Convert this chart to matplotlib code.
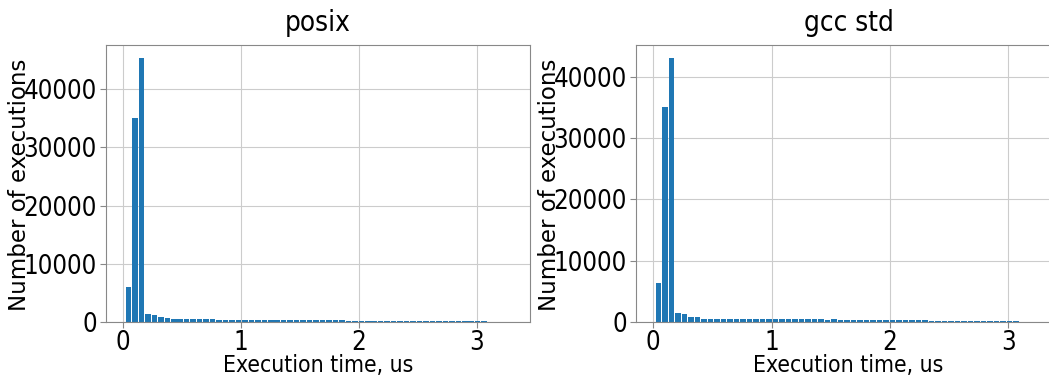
import matplotlib
matplotlib.use("Agg")
import matplotlib.pyplot as plt
import numpy as np

# histogram bins (execution time, us)
bin_edges = np.linspace(0.017, 3.31, 61)

posix_counts = [6000, 35000, 45300, 1420, 1180, 830, 660, 540, 540,
                440, 440, 440, 440, 440, 430, 430, 430, 430, 430, 430, 420, 420,
                320, 320, 320, 320, 310, 310, 310, 310, 310, 310, 310, 380,
                230, 230, 230, 230, 230, 230, 230, 230, 230, 230, 230, 230, 230,
                230, 230, 220, 220, 220, 220, 220, 220, 220,
                0, 0, 0, 5]

gcc_counts = [6350, 35000, 43000, 1400, 1300, 820, 820, 560, 560, 560,
              560, 560, 560, 560, 420, 560, 420, 420, 420, 420, 420, 420, 420,
              420, 420, 420, 330, 470, 330, 330, 330, 330, 330, 330, 330, 330,
              330, 330, 330, 330, 330, 330, 220, 220, 220, 220, 220, 220, 220,
              220, 220, 220, 220, 220, 220, 220,
              0, 0, 0, 5]

titles = ["posix", "gcc std"]
series = [posix_counts, gcc_counts]

cond = dict(family="DejaVu Sans", stretch="condensed")

fig = plt.figure(figsize=(10.49, 3.78), dpi=100)
# right panel runs past the figure edge, as in the original (cropped) image
ax1 = fig.add_axes([0.101, 0.148, 0.404, 0.733])
ax2 = fig.add_axes([0.606, 0.148, 0.406, 0.733])

for ax, title, counts in zip([ax1, ax2], titles, series):
    ax.hist(bin_edges[:-1], bins=bin_edges, weights=counts, rwidth=0.85,
            color="#1f77b4", zorder=2)
    ax.set_xlim(-0.147, 3.45)
    ax.set_axisbelow(True)
    ax.grid(True, color="#cccccc", linewidth=0.8)
    for sp in ax.spines.values():
        sp.set_color("#888888")
    ax.tick_params(colors="#888888", labelcolor="black", length=4, pad=2.5)
    ax.tick_params(axis="x", pad=1.5)
    ax.set_xticks([0, 1, 2, 3])
    ax.set_yticks([0, 10000, 20000, 30000, 40000])
    for lab in ax.get_xticklabels() + ax.get_yticklabels():
        lab.set_fontfamily("DejaVu Sans")
        lab.set_fontstretch("condensed")
        lab.set_fontsize(18.5)
    ax.set_title(title, fontsize=20, pad=10, **cond)
    ax.set_xlabel("Execution time, us", fontsize=16.5, **cond)
    ax.xaxis.set_label_coords(0.5, -0.114)
    ax.set_ylabel("Number of executions", fontsize=16.5, family="DejaVu Sans")
    ax.yaxis.set_label_coords(-0.176, 0.495)

fig.savefig("out.png", dpi=100)
